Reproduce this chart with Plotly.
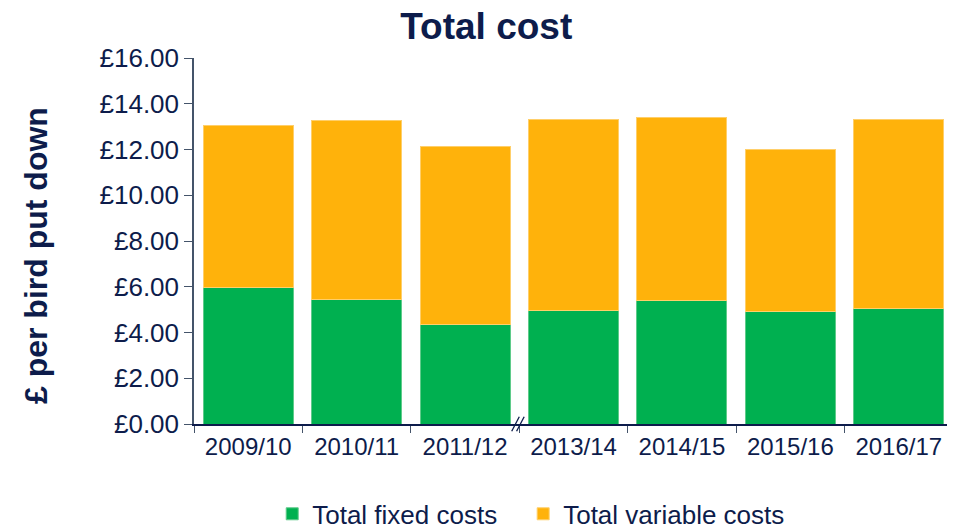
import plotly.graph_objects as go

categories = ["2009/10", "2010/11", "2011/12", "2013/14", "2014/15", "2015/16", "2016/17"]
fixed_costs = [5.95, 5.46, 4.33, 4.98, 5.38, 4.90, 5.07]
total_costs = [13.03, 13.25, 12.11, 13.29, 13.38, 12.02, 13.33]
variable_costs = [round(t - f, 2) for t, f in zip(total_costs, fixed_costs)]
y_ticks = [0, 2, 4, 6, 8, 10, 12, 14, 16]
y_tick_labels = ["£%.2f" % v for v in y_ticks]

NAVY = "#0D1C4B"
AXIS = "#44546A"
FONT = "Liberation Sans, Arial, sans-serif"

fig = go.Figure()
fig.add_trace(go.Bar(x=categories, y=fixed_costs, name="Total fixed costs", legend="legend",
                     marker=dict(color="#00B050", line=dict(color="#5FCB8A", width=1))))
fig.add_trace(go.Bar(x=categories, y=variable_costs, name="Total variable costs", legend="legend2",
                     marker=dict(color="#FFB20B", line=dict(color="#FFCF6A", width=1))))

# axis-break mark between 2011/12 and 2013/14
for dx in (-0.045, 0.0):
    fig.add_shape(type="line", xref="x", yref="paper",
                  x0=2.5 + dx - 0.025, x1=2.5 + dx + 0.045, y0=-0.02, y1=0.02,
                  line=dict(color=NAVY, width=1.3))

# y-axis title as a rotated annotation (sits slightly below the plot centre)
fig.add_annotation(text="<b>£ per bird put down</b>", textangle=-90,
                   xref="paper", yref="paper", x=0, y=0.459,
                   xanchor="center", yanchor="middle", xshift=-158, showarrow=False,
                   font=dict(size=32, color=NAVY, family=FONT))

legend_style = dict(orientation="h", xref="container", yref="container",
                    y=0.029, yanchor="middle", xanchor="left",
                    font=dict(size=26, color=NAVY), itemwidth=30, bgcolor="rgba(0,0,0,0)")

# the page body has an 8px margin, so the figure is drawn 8px smaller
fig.update_layout(
    width=947, height=521,
    margin=dict(l=186, r=2, t=50, b=105, autoexpand=False),
    barmode="stack", bargap=0.17,
    plot_bgcolor="white", paper_bgcolor="white",
    font=dict(family=FONT, color=NAVY, size=20),
    title=dict(text="<b>Total cost</b>", x=0.505, xanchor="center", xref="container",
               y=0.99, yanchor="top", yref="container",
               font=dict(size=37, color=NAVY, family=FONT)),
    legend=dict(x=0.279, **legend_style),
    legend2=dict(x=0.544, **legend_style),
    showlegend=True,
)
fig.update_xaxes(showline=True, linecolor=NAVY, linewidth=1.5, automargin=False,
                 ticks="outside", tickson="boundaries", ticklen=7, tickcolor=AXIS,
                 tickfont=dict(size=24, color=NAVY), showgrid=False)
fig.update_yaxes(range=[0, 16], tickvals=y_ticks, ticktext=y_tick_labels, automargin=False,
                 showline=True, linecolor=AXIS, linewidth=1.5,
                 ticks="outside", ticklen=8, tickcolor=AXIS,
                 tickfont=dict(size=26, color=NAVY), showgrid=False, zeroline=False)

fig.write_html("out.html")
